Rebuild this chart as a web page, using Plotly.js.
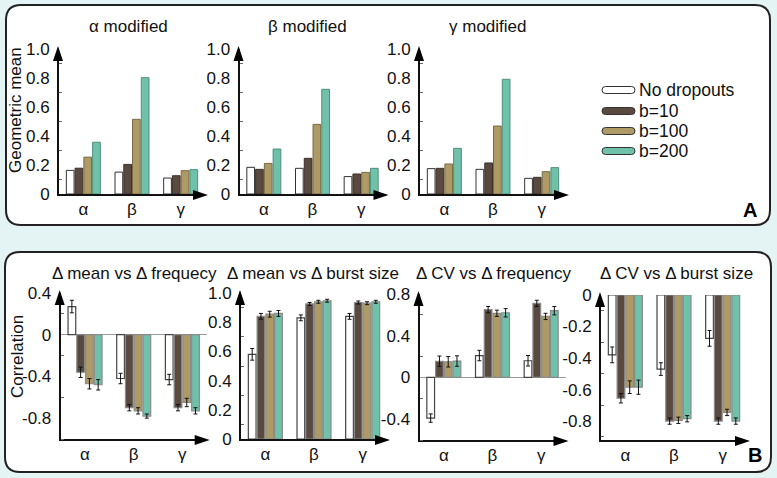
<!DOCTYPE html>
<html><head><meta charset="utf-8">
<script src="https://cdn.plot.ly/plotly-3.0.1.min.js"></script>
<style>html,body{margin:0;padding:0;background:#e4f3f3;} #chart{width:777px;height:478px;}</style>
</head><body><div id="chart"></div>
<script>
// ---------- data ----------
const groups = ['α', 'β', 'γ'];
const seriesNames = ['No dropouts', 'b=10', 'b=100', 'b=200'];
const seriesColors = ['#ffffff', '#59493f', '#ae9a64', '#70c1aa'];
const seriesLineColors = ['#333333', '#3b312b', '#776a45', '#4f8f7d'];

// Panel A: geometric mean (rows: No dropouts, b=10, b=100, b=200; cols: α, β, γ)
const panelATitles = ['α modified', 'β modified', 'γ modified'];
const geoAlphaMod = [[0.163, 0.151, 0.110], [0.178, 0.204, 0.126], [0.254, 0.515, 0.161], [0.357, 0.802, 0.168]];
const geoBetaMod  = [[0.184, 0.177, 0.120], [0.170, 0.246, 0.138], [0.211, 0.480, 0.149], [0.310, 0.722, 0.177]];
const geoGammaMod = [[0.175, 0.170, 0.108], [0.177, 0.214, 0.115], [0.207, 0.469, 0.154], [0.315, 0.791, 0.182]];
const geoTicks = [0, 0.2, 0.4, 0.6, 0.8, 1.0];
const geoTickText = ['0', '0.2', '0.4', '0.6', '0.8', '1.0'];

// Panel B: correlation with error bars
const panelBTitles = ['Δ mean vs Δ frequecy', 'Δ mean vs Δ burst size', 'Δ CV vs Δ frequency', 'Δ CV vs Δ burst size'];
const corrMeanFreq    = [[0.27, -0.42, -0.43], [-0.36, -0.70, -0.70], [-0.47, -0.73, -0.65], [-0.48, -0.78, -0.73]];
const corrMeanFreqErr = [[0.06, 0.05, 0.05], [0.05, 0.03, 0.03], [0.05, 0.03, 0.04], [0.05, 0.02, 0.03]];
const corrMeanBurst    = [[0.58, 0.83, 0.84], [0.84, 0.925, 0.935], [0.855, 0.94, 0.93], [0.86, 0.947, 0.94]];
const corrMeanBurstErr = [[0.04, 0.02, 0.02], [0.02, 0.01, 0.01], [0.02, 0.01, 0.01], [0.02, 0.01, 0.01]];
const corrCvFreq    = [[-0.39, 0.21, 0.16], [0.155, 0.65, 0.71], [0.15, 0.615, 0.585], [0.157, 0.62, 0.64]];
const corrCvFreqErr = [[0.04, 0.05, 0.05], [0.05, 0.03, 0.03], [0.05, 0.03, 0.03], [0.05, 0.04, 0.04]];
const corrCvBurst    = [[-0.38, -0.47, -0.275], [-0.655, -0.80, -0.80], [-0.585, -0.795, -0.745], [-0.585, -0.785, -0.80]];
const corrCvBurstErr = [[0.05, 0.04, 0.05], [0.03, 0.02, 0.02], [0.04, 0.02, 0.02], [0.045, 0.02, 0.02]];
const b1Ticks = [-0.8, -0.4, 0, 0.4];       const b1TickText = ['-0.8', '-0.4', '0', '0.4'];
const b2Ticks = [0, 0.2, 0.4, 0.6, 0.8, 1.0]; const b2TickText = ['0', '0.2', '0.4', '0.6', '0.8', '1.0'];
const b3Ticks = [-0.4, 0, 0.4, 0.8];        const b3TickText = ['-0.4', '0', '0.4', '0.8'];
const b4Ticks = [-0.8, -0.6, -0.4, -0.2, 0]; const b4TickText = ['-0.8', '-0.6', '-0.4', '-0.2', '0'];

// ---------- layout helpers ----------
const W = 777, H = 478;
const FONT = 'Liberation Sans, Arial, Helvetica, sans-serif';
const TXT = '#111111';
const X = px => px / W;
const Y = py => 1 - py / H;

const subplots = [
  {l: 59,    r: 205,   t: 49,  b: 194, range: [0, 1],       data: geoAlphaMod,   err: null,              tv: geoTicks, tt: geoTickText, zl: false, minor: [0.1, 0.2]},
  {l: 239.5, r: 385.5, t: 49,  b: 194, range: [0, 1],       data: geoBetaMod,    err: null,              tv: geoTicks, tt: geoTickText, zl: false, minor: [0.1, 0.2]},
  {l: 420,   r: 566,   t: 49,  b: 194, range: [0, 1],       data: geoGammaMod,   err: null,              tv: geoTicks, tt: geoTickText, zl: false, minor: [0.1, 0.2]},
  {l: 60.7,  r: 206.7, t: 293, b: 439, range: [-1.0, 0.4],  data: corrMeanFreq,  err: corrMeanFreqErr,   tv: b1Ticks, tt: b1TickText, zl: true,  minor: [0.2, 0.4]},
  {l: 241,   r: 387,   t: 293, b: 439, range: [0, 1.0],     data: corrMeanBurst, err: corrMeanBurstErr,  tv: b2Ticks, tt: b2TickText, zl: false, minor: [0.1, 0.2]},
  {l: 419.5, r: 565.5, t: 294, b: 440, range: [-0.6, 0.8],  data: corrCvFreq,    err: corrCvFreqErr,     tv: b3Ticks, tt: b3TickText, zl: true,  minor: [0.2, 0.4]},
  {l: 601,   r: 747,   t: 295, b: 440, range: [-0.92, 0],   data: corrCvBurst,   err: corrCvBurstErr,    tv: b4Ticks, tt: b4TickText, zl: false, minor: [-0.1, 0.2]}
];

const traces = [];
const layout = {
  width: W, height: H,
  margin: {l: 0, r: 0, t: 0, b: 0},
  paper_bgcolor: '#e4f3f3',
  plot_bgcolor: 'rgba(0,0,0,0)',
  barmode: 'group', bargap: 0.28, bargroupgap: 0.12,
  showlegend: false,
  font: {family: FONT, size: 17, color: TXT},
  shapes: [], annotations: []
};

subplots.forEach((sp, i) => {
  const n = i === 0 ? '' : String(i + 1);
  const xa = 'x' + n, ya = 'y' + n;
  const isB = i >= 3;
  sp.data.forEach((vals, s) => {
    const tr = {
      type: 'bar', x: groups, y: vals, name: seriesNames[s],
      xaxis: xa, yaxis: ya,
      marker: {color: seriesColors[s], line: {color: isB ? (s === 0 ? '#444' : '#8a8a8a') : seriesLineColors[s], width: isB ? 1.2 : 1}},
      hoverinfo: 'skip'
    };
    if (sp.err) tr.error_y = {type: 'data', array: sp.err[s], visible: true, color: '#111', thickness: 1, width: 2};
    traces.push(tr);
  });
  layout['xaxis' + n] = {
    domain: [X(sp.l), X(sp.r)], anchor: ya, type: 'category',
    categoryorder: 'array', categoryarray: groups, range: [-0.5, 2.5],
    showline: true, linecolor: '#111', linewidth: 2,
    ticks: '', ticklabelstandoff: -1,
    tickfont: {size: 17, color: TXT, family: FONT},
    showgrid: false, zeroline: false, fixedrange: true
  };
  layout['yaxis' + n] = {
    domain: [Y(sp.b), Y(sp.t)], anchor: xa, range: sp.range,
    showline: true, linecolor: '#111', linewidth: 2,
    tickmode: 'array', tickvals: sp.tv, ticktext: sp.tt, ticks: '',
    ticklabelstandoff: 4,
    minor: {tickmode: 'linear', tick0: sp.minor[0], dtick: sp.minor[1], ticks: 'inside', ticklen: 3, tickwidth: 1, tickcolor: '#666'},
    tickfont: {size: 17, color: TXT, family: FONT},
    showgrid: false, zeroline: sp.zl, zerolinecolor: '#9a9a9a', zerolinewidth: 1, fixedrange: true
  };
  // arrowheads (decoration)
  const ax = sp.l - 1, ay = sp.b + 1;
  layout.shapes.push({type: 'path', xref: 'paper', yref: 'paper', layer: 'above',
    path: `M ${X(ax)},${Y(sp.t - 3)} L ${X(ax - 5)},${Y(sp.t + 12)} L ${X(ax + 5)},${Y(sp.t + 12)} Z`,
    fillcolor: '#000', line: {width: 0}});
  layout.shapes.push({type: 'path', xref: 'paper', yref: 'paper', layer: 'above',
    path: `M ${X(sp.r + 3)},${Y(ay)} L ${X(sp.r - 12)},${Y(ay - 5)} L ${X(sp.r - 12)},${Y(ay + 5)} Z`,
    fillcolor: '#000', line: {width: 0}});
});

// panels (rounded frames)
function rrect(x0, y0, x1, y1, r) {
  const p = (x, y) => `${X(x)},${Y(y)}`;
  return `M ${p(x0 + r, y0)} L ${p(x1 - r, y0)} Q ${p(x1, y0)} ${p(x1, y0 + r)} L ${p(x1, y1 - r)} Q ${p(x1, y1)} ${p(x1 - r, y1)} L ${p(x0 + r, y1)} Q ${p(x0, y1)} ${p(x0, y1 - r)} L ${p(x0, y0 + r)} Q ${p(x0, y0)} ${p(x0 + r, y0)} Z`;
}
layout.shapes.unshift(
  {type: 'path', xref: 'paper', yref: 'paper', layer: 'below', path: rrect(6, 5, 770, 225, 15), fillcolor: '#ffffff', line: {color: '#222', width: 2}},
  {type: 'path', xref: 'paper', yref: 'paper', layer: 'below', path: rrect(5, 252, 771, 472, 15), fillcolor: '#ffffff', line: {color: '#222', width: 2}}
);

// legend (drawn)
const legRows = [90, 111, 131, 151];
seriesNames.forEach((name, s) => {
  const yc = legRows[s];
  layout.shapes.push({type: 'path', xref: 'paper', yref: 'paper', layer: 'above',
    path: rrect(602, yc - 3.5, 635, yc + 3.5, 3.5), fillcolor: seriesColors[s], line: {color: '#333', width: 1}});
  layout.annotations.push({xref: 'paper', yref: 'paper', x: X(637), y: Y(yc), xanchor: 'left', yanchor: 'middle',
    text: name, showarrow: false, font: {size: 17.5, color: TXT, family: FONT}});
});

// titles
const aTitleX = [128, 307.5, 487];
panelATitles.forEach((t, i) => layout.annotations.push({xref: 'paper', yref: 'paper', x: X(aTitleX[i]), y: Y(27),
  xanchor: 'center', yanchor: 'middle', text: t, showarrow: false, font: {size: 17, color: TXT, family: FONT}}));
const bTitleX = [134, 313, 494, 676];
panelBTitles.forEach((t, i) => layout.annotations.push({xref: 'paper', yref: 'paper', x: X(bTitleX[i]), y: Y(273),
  xanchor: 'center', yanchor: 'middle', text: t, showarrow: false, font: {size: 17, color: TXT, family: FONT}}));
layout.annotations.push(
  {xref: 'paper', yref: 'paper', x: X(15), y: Y(110), textangle: -90, xanchor: 'center', yanchor: 'middle', text: 'Geometric mean', showarrow: false, font: {size: 17, color: TXT, family: FONT}},
  {xref: 'paper', yref: 'paper', x: X(17), y: Y(357), textangle: -90, xanchor: 'center', yanchor: 'middle', text: 'Correlation', showarrow: false, font: {size: 17, color: TXT, family: FONT}},
  {xref: 'paper', yref: 'paper', x: X(750), y: Y(210), xanchor: 'center', yanchor: 'middle', text: '<b>A</b>', showarrow: false, font: {size: 20, color: '#000', family: FONT}},
  {xref: 'paper', yref: 'paper', x: X(755), y: Y(455), xanchor: 'center', yanchor: 'middle', text: '<b>B</b>', showarrow: false, font: {size: 20, color: '#000', family: FONT}}
);

Plotly.newPlot('chart', traces, layout, {displayModeBar: false, staticPlot: true});
</script></body></html>
